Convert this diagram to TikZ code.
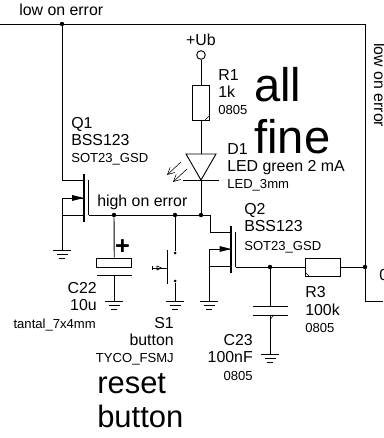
\documentclass[tikz,border=0pt]{standalone}
\usepackage{fontspec}
\setmainfont{Liberation Sans}
\usetikzlibrary{arrows.meta}
\tikzset{
  wire/.style={line width=0.023cm},
  thickbar/.style={line width=0.07cm},
  dot/.style={circle,fill=black,inner sep=0pt,minimum size=0.11cm},
  part/.style={draw,line width=0.023cm,inner sep=0pt},
  txt/.style={inner sep=0pt,font=\fontsize{11.3}{13}\selectfont},
  txtsmall/.style={inner sep=0pt,font=\fontsize{9.3}{11}\selectfont},
  txtbig/.style={inner sep=0pt,font=\fontsize{33.5}{40}\selectfont},
  txtmid/.style={inner sep=0pt,font=\fontsize{22}{26}\selectfont}
}
\begin{document}
\begin{tikzpicture}[x=0.025cm,y=-0.025cm]
            \useasboundingbox (0,0) rectangle (383,438);
            \clip (0,0) rectangle (383,438);

            % Marking junctions
            \node [dot] (jtop) at (62,24) {};%
            \node [dot] (jcap) at (114,215) {};%
            \node [dot] (jbtn) at (175,215) {};%
            \node [dot] (jled) at (201,215) {};%
            \node [dot] (jgate) at (270,267) {};%
            \node [dot] (jright) at (365,267) {};%
            \node [dot,minimum size=0.075cm] (btntop) at (175,253) {};%
            \node [dot,minimum size=0.075cm] (btnbot) at (175,281) {};%

            % Drawing parts
            \node [part,circle,fill=white,minimum size=0.215cm] (ub) at (201,55) {};%
            \node [part,minimum width=0.425cm,minimum height=0.875cm] (rone) at (201,102.5) {};%
            \node [part,minimum width=0.875cm,minimum height=0.45cm] (rthree) at (322.5,267) {};%
            \node [part,minimum width=0.87cm,minimum height=0.225cm] (ctt) at (114.25,262.5) {};%

            % Free ends of the wires
            \coordinate (topleft) at (0,24);%
            \coordinate (topright) at (365,24);%
            \coordinate (rightlow) at (365,301);%
            \coordinate (rightend) at (383,301);%
            \coordinate (qoned) at (84,180);%
            \coordinate (qones) at (84,198);%
            \coordinate (qoneb) at (84,215);%
            \coordinate (qonegate) at (88.5,215);%
            \coordinate (qtwod) at (231,232);%
            \coordinate (qtwos) at (231,249);%
            \coordinate (qtwob) at (231,266);%
            \coordinate (qtwogate) at (235.5,267);%
            \coordinate (ledtop) at (201,154);%
            \coordinate (ledtip) at (201,180);%
            \coordinate (cttplate) at (114,275);%
            \coordinate (cplateup) at (270,306);%
            \coordinate (cplatedn) at (270,315);%
            \coordinate (gndqone) at (62,250);%
            \coordinate (gndctt) at (114,301);%
            \coordinate (gndbtn) at (175,301);%
            \coordinate (gndqtwo) at (209,301);%
            \coordinate (gndcap) at (270,354);%

            % Drawing top and right wire
            \draw [wire] (topleft) -- (jtop) -- (topright) -- (jright) -- (rightlow) -- (rightend);%

            % Drawing wires of Q1
            \draw [wire] (jtop) |- (qoned);%
            \draw [wire] (gndqone) |- (qones);%
            \draw [wire] (gndqone |- qoneb) -- (qoneb);%

            % Drawing high on error wire
            \draw [wire] (qonegate) -- (jcap) -- (jbtn) -- (jled) -- ++(9,0) |- (qtwod);%

            % Drawing wires of Q2
            \draw [wire] (gndqtwo) |- (qtwos);%
            \draw [wire] (gndqtwo |- qtwob) -- (qtwob);%
            \draw [wire] (qtwogate) -- (jgate) -- (rthree.west);%
            \draw [wire] (rthree.east) -- (jright);%

            % Drawing R1 and LED wires
            \draw [wire] (ub) -- (rone.north);%
            \draw [wire] (rone.south) -- (ledtop);%
            \draw [wire] (ledtip) -- (jled);%

            % Drawing C22, S1 and C23 wires
            \draw [wire] (jcap) -- (ctt.north);%
            \draw [wire] (cttplate) -- (gndctt);%
            \draw [wire] (jbtn) -- (btntop);%
            \draw [wire] (btnbot) -- (gndbtn);%
            \draw [wire] (jgate) -- (cplateup);%
            \draw [wire] (cplatedn) -- (gndcap);%

            % Drawing Q1
            \draw [thickbar] (84,174) -- (84,222);%
            \draw [wire] (88.5,180) -- (qonegate);%
            \fill (72,195) -- (84,198) -- (72,201) -- cycle;%

            % Drawing Q2
            \draw [thickbar] (231,226) -- (231,273);%
            \draw [wire] (235.5,232) -- (qtwogate);%
            \fill (219.5,246) -- (231,249) -- (219.5,252) -- cycle;%

            % Drawing LED
            \draw [wire] (186,154) -- (216,154) -- (ledtip) -- cycle;%
            \draw [wire] (183,180) -- (219,180);%
            \draw [line width=0.014cm,-{Straight Barb[length=0.17cm,width=0.17cm]}] (181,162) -- (167,175);%
            \draw [line width=0.014cm,-{Straight Barb[length=0.17cm,width=0.17cm]}] (187,169) -- (173,182);%

            % Drawing capacitor plates
            \draw [wire] (97,275) -- (132,275);%
            \draw [wire] (253,306) -- (288,306);%
            \draw [wire] (253,315) -- (288,315);%
            \draw [line width=0.014cm] (273.5,315) -- (271,318.5);%

            % Drawing S1
            \draw [wire] (167,250) -- (167,284);%
            \draw [line width=0.016cm] (152,268) -- (167,268);%
            \draw [line width=0.016cm] (152.5,266) -- (152.5,270);%
            \draw [line width=0.016cm] (157,266) -- (161.5,268) -- (157,270) -- cycle;%

            % Drawing corner ticks of the resistors
            \draw [line width=0.014cm] (205,120) -- (209.5,115.5);%
            \draw [line width=0.014cm] (305,272) -- (309,276);%

            % Drawing ground symbols
            \foreach \gnd in {gndqone,gndctt,gndbtn,gndqtwo,gndcap} {
              \draw [wire] (\gnd) ++(-9,0) -- ++(18,0);%
              \draw [wire] (\gnd) ++(-5.5,4) -- ++(11,0);%
              \draw [wire] (\gnd) ++(-3,8) -- ++(6,0);%
            }

            % Marking texts of the wires
            \node [txt,anchor=base west] (lowtop) at (19,16) {low on error};%
            \node [txt,anchor=base west,rotate=-90] (lowside) at (374,43) {low on error};%
            \node [txt,anchor=base west] (high) at (97,206) {high on error};%
            \node [txt,anchor=base] (ubtext) at (201,46) {+Ub};%
            \node [txt,anchor=base west] (zero) at (379,280) {0};%

            % Marking Q1
            \node [txt,anchor=base west] (qonename) at (71,129) {Q1};%
            \node [txt,anchor=base west] (qoneval) at (71,146) {BSS123};%
            \node [txtsmall,anchor=base west] (qonepack) at (71,163) {SOT23\_GSD};%

            % Marking R1
            \node [txt,anchor=base west] (ronename) at (218,81) {R1};%
            \node [txt,anchor=base west] (roneval) at (218,98) {1k};%
            \node [txtsmall,anchor=base west] (ronepack) at (218,115) {0805};%

            % Marking D1
            \node [txt,anchor=base west] (donename) at (227,155) {D1};%
            \node [txt,anchor=base west] (doneval) at (227,172) {LED green 2 mA};%
            \node [txtsmall,anchor=base west] (donepack) at (227,189) {LED\_3mm};%

            % Marking Q2
            \node [txt,anchor=base west] (qtwoname) at (244,215) {Q2};%
            \node [txt,anchor=base west] (qtwoval) at (244,232) {BSS123};%
            \node [txtsmall,anchor=base west] (qtwopack) at (244,250) {SOT23\_GSD};%

            % Marking R3
            \node [txt,anchor=base west] (rthreename) at (305,297) {R3};%
            \node [txt,anchor=base west] (rthreeval) at (305,315) {100k};%
            \node [txtsmall,anchor=base west] (rthreepack) at (305,332) {0805};%

            % Marking C23
            \node [txt,anchor=base east] (cname) at (253,345) {C23};%
            \node [txt,anchor=base east] (cval) at (253,362) {100nF};%
            \node [txtsmall,anchor=base east] (cpack) at (253,380) {0805};%

            % Marking C22
            \node [inner sep=0pt,font=\fontsize{18}{20}\selectfont] (plus) at (122.5,247) {\textbf{+}};%
            \node [txt,anchor=base east] (cttname) at (97,293) {C22};%
            \node [txt,anchor=base east] (cttval) at (97,310) {10u};%
            \node [txtsmall,anchor=base east] (cttpack) at (96,328) {tantal\_7x4mm};%

            % Marking S1
            \node [txt,anchor=base east] (sonename) at (174,328) {S1};%
            \node [txt,anchor=base east] (soneval) at (174,345) {button};%
            \node [txtsmall,anchor=base east] (sonepack) at (174,362) {TYCO\_FSMJ};%

            % Marking big notes
            \node [txtbig,anchor=base west] (noteall) at (254,102) {all};%
            \node [txtbig,anchor=base west] (notefine) at (254,154) {fine};%
            \node [txtmid,anchor=base west] (notereset) at (97,393) {reset};%
            \node [txtmid,anchor=base west] (notebutton) at (97,427) {button};%
        \end{tikzpicture}
\end{document}
